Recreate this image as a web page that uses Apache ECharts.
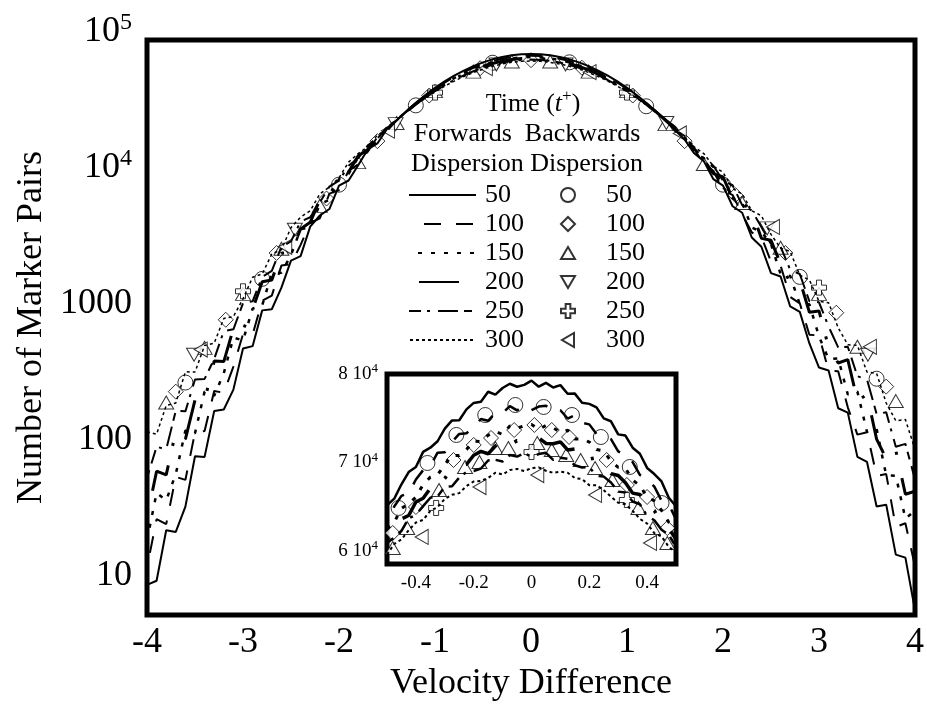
<!DOCTYPE html>
<html><head><meta charset="utf-8">
<script src="https://cdn.jsdelivr.net/npm/echarts@6/dist/echarts.min.js"></script>
<style>html,body{margin:0;padding:0;background:#fff}#c{width:927px;height:707px}</style>
</head><body><div id="c"></div>
<script>
const FONT = '"Liberation Serif","Times New Roman",serif';

// ---------- main plot: forwards dispersion (lines) ----------
const velocity = [-4,-3.9,-3.8,-3.7,-3.6,-3.5,-3.4,-3.3,-3.2,-3.1,-3,-2.9,-2.8,-2.7,-2.6,-2.5,-2.4,-2.3,-2.2,-2.1,-2,-1.9,-1.8,-1.7,-1.6,-1.5,-1.4,-1.3,-1.2,-1.1,-1,-0.9,-0.8,-0.7,-0.6,-0.5,-0.4,-0.3,-0.2,-0.1,0,0.1,0.2,0.3,0.4,0.5,0.6,0.7,0.8,0.9,1,1.1,1.2,1.3,1.4,1.5,1.6,1.7,1.8,1.9,2,2.1,2.2,2.3,2.4,2.5,2.6,2.7,2.8,2.9,3,3.1,3.2,3.3,3.4,3.5,3.6,3.7,3.8,3.9,4];
const fwd50 = [9.7,10.4,24.5,23.8,36.6,86,85,185,190,266,534,556,1020,1040,1500,2370,2560,4220,5100,5690,8470,9230,11960,15670,17290,22130,25560,29860,34480,39370,44430,49560,54650,59580,64210,68410,72050,75010,77200,78550,79000,78550,77200,75010,72050,68410,64210,59580,54650,49560,44430,39370,34480,29860,25560,21630,18520,14630,12820,9440,8470,5960,5340,3510,3000,1920,1810,1090,994,582,387,368,194,180,85,78,36.6,37.8,16.2,15.4,6.3];
const fwd100 = [13,29.6,27.2,60.6,57.6,129,132,260,252,393,682,675,1200,1310,2180,2230,3100,4490,4860,7380,7840,10880,12140,15040,19310,21350,25640,29760,34180,38850,43670,48550,53390,58080,62500,66500,69980,72810,74910,76220,76650,76220,74910,72810,69980,66500,62500,58080,53390,48550,43670,38850,34180,29760,25640,22350,18020,15740,12140,10880,7840,7210,5210,3820,3560,2330,2180,1280,1150,675,666,367,364,197,124,129,61.7,63.5,25.9,27.6,13.3];
const fwd150 = [20.6,46.2,40.7,63.6,133,127,257,240,351,643,612,1050,1110,1920,1930,2610,4040,4160,6150,6670,9470,10320,13720,15020,18280,22540,25700,29690,33950,38440,43070,47760,52420,56920,61170,65020,68370,71110,73140,74400,74820,74400,73140,71110,68370,65020,61170,56920,52420,47760,43070,38440,33950,29690,25700,21520,19140,15020,13400,11590,8240,6830,6290,4160,3860,3140,1890,1830,1130,1130,656,445,452,245,257,130,137,62.1,61.7,29.9,34.1];
const fwd200 = [30.6,66.7,62.6,131,115,223,221,432,428,751,735,1040,1660,1710,2690,2730,4060,4540,6640,7140,9820,10630,14030,15620,19350,22170,25750,29630,33770,38130,42630,47180,51690,56060,60180,63920,67190,69850,71830,73060,73470,73060,71830,69850,67190,63920,60180,56060,51690,47180,42630,38130,33770,29630,25750,22680,18070,16740,13090,10380,9820,6820,6340,5460,3460,3350,2240,1630,1700,989,1010,544,418,442,221,244,115,82.6,94.8,45.1,47.5];
const fwd250 = [59.6,101,96.5,186,184,316,319,447,719,740,1150,1190,1800,1990,3000,3290,4600,4950,6370,8320,9200,11850,13500,16730,18760,22860,25810,29550,33540,37730,42040,46410,50740,54930,58900,62490,65640,68210,70120,71320,71720,71320,70120,68210,65640,62490,58900,54930,50740,46410,42040,37730,33540,29550,25810,21840,19640,15970,13500,11850,9200,8520,6080,5560,4190,3140,3000,2030,1890,1190,1170,775,545,550,334,316,176,181,101,106,58.3];
const fwd300 = [130,125,203,212,360,358,563,584,890,918,1240,1790,1890,2650,2860,4150,4960,5520,7340,8260,9660,12610,14570,16330,19920,22020,25880,29480,33310,37320,41460,45650,49790,53840,57620,61090,64120,66610,68460,69610,70000,69610,68460,66610,64120,61090,57620,53840,49790,45650,41460,37320,33310,29480,25880,23060,19020,16330,14570,11760,10600,8070,7340,5520,5080,3700,2930,2770,1850,1710,1190,1160,758,570,563,358,351,212,157,160,96.7];

// ---------- main plot: backwards dispersion (markers) ----------
const bwd50X = [-3.6,-2.8,-2,-1.2,-0.4,0.4,1.2,2,2.8,3.6];
const bwd50Y = [300,1740,8600,33000,68000,68500,32500,8600,1800,320];
const bwd100X = [-3.7,-3.18,-2.65,-2.13,-1.6,-1.06,-0.53,0,0.53,1.06,1.6,2.13,2.65,3.18,3.7];
const bwd100Y = [257,870,2700,6800,18000,39000,62000,71000,62500,39000,18000,7200,2700,980,280];
const bwd150X = [-3.8,-3.4,-3,-2.6,-2.2,-1.8,-1.4,-1,-0.6,-0.2,0.2,0.6,1,1.4,1.8,2.2,2.6,3,3.4,3.8];
const bwd150Y = [214,540,1350,2900,6000,12600,24500,42000,58500,69500,69500,58500,42000,24000,12200,6300,2950,1350,550,219];
const bwd200X = [-3.51,-2.46,-1.41,-0.36,0.36,1.41,2.46,3.51];
const bwd200Y = [480,4000,24000,66000,66000,24500,4100,480];
const bwd250X = [-3,-1,1,3];
const bwd250Y = [1410,41000,41000,1500];
const bwd300X = [-3.44,-2.56,-1.49,-0.47,0.61,1.55,2.52,3.53];
const bwd300Y = [525,3000,21500,62000,58000,20500,4200,550];

// ---------- inset (centre of the distributions) ----------
const insetX = [-0.5,-0.475,-0.45,-0.425,-0.4,-0.375,-0.35,-0.325,-0.3,-0.275,-0.25,-0.225,-0.2,-0.175,-0.15,-0.125,-0.1,-0.075,-0.05,-0.025,0,0.025,0.05,0.075,0.1,0.125,0.15,0.175,0.2,0.225,0.25,0.275,0.3,0.325,0.35,0.375,0.4,0.425,0.45,0.475,0.5];
const inset50 = [65140,65890,67520,68900,69480,71190,71660,72390,73820,74750,74760,76000,76730,76860,77990,77660,78420,78900,78560,78770,79250,78560,78990,78470,78740,77760,77780,76750,76620,76220,74980,74650,73170,73030,71660,70970,69370,68680,67840,65990,65040];
const inset100 = [63340,65010,66210,66510,68060,69120,69590,71100,71140,72310,73220,73300,73980,74900,74700,75600,75580,76370,75880,76420,75920,76310,76420,75720,75900,74960,75350,74470,74300,73200,73000,72640,71250,70780,70020,68580,68060,67260,65670,65230,63550];
const inset150 = [62480,63220,64780,65330,66060,67490,68330,68580,69770,70780,70770,71450,72410,72340,73070,73520,73150,74130,73850,74160,74300,73730,74170,73920,73370,73630,72640,72660,72300,71450,71300,70130,69440,69340,68000,67380,66060,65650,64560,63220,62690];
const inset200 = [61200,62520,63600,63990,65520,65940,67060,67380,68190,69270,69660,69780,70810,71240,70980,71840,72320,71990,72460,72340,72690,72770,72140,72100,72320,71410,71520,71240,70380,70530,69440,68730,68510,67700,66520,66370,65090,64530,63170,62520,61310];
const inset250 = [60870,61480,62260,63660,64060,65050,66000,66150,67230,67290,68280,68900,69020,69310,70210,70290,70100,70830,70650,71050,70650,70940,71080,70290,70530,70400,69670,69420,69450,68470,68390,67720,66690,66580,65570,65260,63950,63450,62370,61800,60440];
const inset300 = [59560,60770,61280,62320,63190,63490,64510,64940,65860,66330,66520,67320,67840,67900,68230,68830,68630,69130,69260,69010,69360,69440,69050,68810,68950,68830,68230,68110,67410,67420,66840,66110,65430,65260,64510,63600,63080,61990,61610,60450,59780];

const insetB50X = [-0.46,-0.36,-0.26,-0.16,-0.056,0.042,0.14,0.24,0.34,0.45];
const insetB50Y = [64840,69930,73100,75360,76490,76270,75360,72870,69480,65400];
const insetB100X = [-0.48,-0.4,-0.27,-0.2,-0.14,-0.06,0.01,0.07,0.13,0.26,0.33,0.4,0.47];
const insetB100Y = [62010,64950,70270,71970,72760,73660,74230,73660,72870,70270,67440,66080,62570];
const insetB150X = [-0.48,-0.43,-0.32,-0.23,-0.18,-0.125,-0.08,0.02,0.07,0.12,0.17,0.22,0.28,0.37,0.42,0.47];
const insetB150Y = [60310,62570,66870,69480,70040,71630,71630,72190,71400,70830,70270,69360,68010,64840,62570,60880];
const insetB200X = [];
const insetB200Y = [];
const insetB250X = [-0.33,0,0.33];
const insetB250Y = [64840,71170,65740];
const insetB300X = [-0.38,-0.18,0.02,0.22,0.41];
const insetB300Y = [61560,67210,68570,66310,60880];

const times = ['50','100','150','200','250','300'];
const insetYTicks = [60000,70000,80000];

// ---------- build ----------
const fwdMain = [fwd50,fwd100,fwd150,fwd200,fwd250,fwd300];
const fwdInset = [inset50,inset100,inset150,inset200,inset250,inset300];
const bwdMain = [[bwd50X,bwd50Y],[bwd100X,bwd100Y],[bwd150X,bwd150Y],[bwd200X,bwd200Y],[bwd250X,bwd250Y],[bwd300X,bwd300Y]];
const bwdInset = [[insetB50X,insetB50Y],[insetB100X,insetB100Y],[insetB150X,insetB150Y],[insetB200X,insetB200Y],[insetB250X,insetB250Y],[insetB300X,insetB300Y]];

const lineStyles = [
  {type:'solid', width:2},
  {type:[17,15], dashOffset:17, width:2},
  {type:[4,9], width:2.5},
  {type:[3,24,40,20], width:3},
  {type:[8,7,14,6,3,8,20,6], width:2},
  {type:[3,3], width:1.5}
];
const PLUS = 'path://M4,0H8V4H12V8H8V12H4V8H0V4H4Z';
const TRI_UP = 'path://M7,0L14,12L0,12Z';
const TRI_DOWN = 'path://M0,0L14,0L7,12Z';
const TRI_LEFT = 'path://M12,0L12,14L0,7Z';
const markers = [
  {symbol:'circle', rotate:0, size:15, legend:'circle'},
  {symbol:'diamond', rotate:0, size:15, legend:'diamond'},
  {symbol:'triangle', rotate:0, size:[15,13], legend:TRI_UP},
  {symbol:'triangle', rotate:180, size:[15,13], legend:TRI_DOWN},
  {symbol:PLUS, rotate:0, size:15, legend:PLUS},
  {symbol:'triangle', rotate:90, size:[15,13], legend:TRI_LEFT}
];

const series = [];
times.forEach((t,i) => {
  const ls = Object.assign({color:'#000', cap:'butt'}, lineStyles[i]);
  const lsInset = Object.assign({}, ls, {width: ls.width + 0.5});
  const common = {name:'F '+t, type:'line', symbol:'none', silent:true,
    itemStyle:{color:'rgba(0,0,0,0)', borderColor:'rgba(0,0,0,0)'}};
  series.push(Object.assign({}, common, {xAxisIndex:0, yAxisIndex:0, lineStyle:ls,
    data: velocity.map((x,j)=>[x, fwdMain[i][j]])}));
  series.push(Object.assign({}, common, {xAxisIndex:1, yAxisIndex:1, lineStyle:lsInset,
    data: insetX.map((x,j)=>[x, fwdInset[i][j]])}));
});
times.forEach((t,i) => {
  const common = {name:'B '+t, type:'scatter', symbol:markers[i].symbol, symbolRotate:markers[i].rotate,
    symbolSize:markers[i].size, silent:true, itemStyle:{color:'#fff', borderColor:'#000', borderWidth:1}};
  series.push(Object.assign({}, common, {xAxisIndex:0, yAxisIndex:0,
    data: bwdMain[i][0].map((x,j)=>[x, bwdMain[i][1][j]])}));
  series.push(Object.assign({}, common, {xAxisIndex:1, yAxisIndex:1,
    data: bwdInset[i][0].map((x,j)=>[x, bwdInset[i][1][j]])}));
});

const supRich = (fs, pad) => ({sup:{fontSize:fs, fontFamily:FONT, color:'#000', padding:[0,0,pad,0]}});

const option = {
  backgroundColor:'#fff',
  animation:false,
  textStyle:{fontFamily:FONT, color:'#000'},
  grid:[
    {left:147, top:40, right:12, bottom:91, show:true, borderColor:'#000', borderWidth:5, backgroundColor:'transparent'},
    {left:387, top:374, width:289, height:190, show:true, borderColor:'#000', borderWidth:5, backgroundColor:'#fff'}
  ],
  xAxis:[
    {type:'value', gridIndex:0, min:-4, max:4, interval:1,
      axisLine:{show:false}, axisTick:{show:false}, splitLine:{show:false},
      axisLabel:{fontSize:36, fontFamily:FONT, color:'#000', margin:10},
      name:'Velocity Difference', nameLocation:'middle', nameGap:51,
      nameTextStyle:{fontSize:36, fontFamily:FONT, color:'#000'}},
    {type:'value', gridIndex:1, min:-0.5, max:0.5, interval:0.1,
      axisLine:{show:false}, axisTick:{show:false}, splitLine:{show:false},
      axisLabel:{fontSize:19, fontFamily:FONT, color:'#000', margin:10, showMinLabel:true, showMaxLabel:true,
        formatter: v => { const r = Math.round(v*10); return (r % 2 === 0 && Math.abs(r) < 5) ? String(r/10) : ''; }}}
  ],
  yAxis:[
    {type:'log', logBase:10, gridIndex:0, min:5.82, max:100000,
      axisLine:{show:false}, axisTick:{show:false}, splitLine:{show:false},
      axisLabel:{fontSize:36, fontFamily:FONT, color:'#000', margin:15, padding:[0,0,16,0],
        showMinLabel:true, showMaxLabel:true,
        formatter: v => { const e = Math.log10(v); const r = Math.round(e);
          if (Math.abs(e - r) > 1e-6) return '';
          return r >= 4 ? '10{sup|' + r + '}' : String(Math.round(v)); },
        rich: supRich(24, 18)},
      name:'Number of Marker Pairs', nameLocation:'middle', nameGap:95,
      nameTextStyle:{fontSize:36, fontFamily:FONT, color:'#000'}},
    {type:'value', gridIndex:1, min:58500, max:80000,
      axisLine:{show:false}, axisTick:{show:false}, splitLine:{show:false},
      axisLabel:{customValues:insetYTicks, fontSize:19, fontFamily:FONT, color:'#000', margin:9,
        formatter: v => Math.round(v/10000) + ' 10{sup|4}', rich: supRich(13, 10)}}
  ],
  legend:[
    {data: times.map(t=>'F '+t), formatter: n => n.slice(2), orient:'vertical', left:408, top:182, padding:0,
      itemWidth:67, itemHeight:14, itemGap:3, selectedMode:false, itemStyle:{opacity:0},
      textStyle:{fontSize:26, fontFamily:FONT, color:'#000', lineHeight:26, padding:[0,0,0,4]}},
    {data: times.map((t,i)=>({name:'B '+t, icon:markers[i].legend})), formatter: n => n.slice(2),
      orient:'vertical', left:560, top:182, padding:0,
      itemWidth:14, itemHeight:14, itemGap:3, selectedMode:false,
      textStyle:{fontSize:26, fontFamily:FONT, color:'#000', lineHeight:26, padding:[0,0,0,26]}}
  ],
  graphic:[
    {type:'text', x:533, y:104, silent:true, style:{
      text:'{a|Time (}{i|t}{s|+}{a|)}', align:'center', verticalAlign:'middle',
      rich:{a:{fontSize:26, fontFamily:FONT, color:'#000'},
            i:{fontSize:26, fontFamily:FONT, fontStyle:'italic', color:'#000'},
            s:{fontSize:17, fontFamily:FONT, color:'#000', padding:[0,0,14,0]}}}},
    {type:'text', x:527, y:134, silent:true, style:{text:'Forwards  Backwards', align:'center', verticalAlign:'middle',
      fontSize:26, fontFamily:FONT, fill:'#000'}},
    {type:'text', x:527, y:164, silent:true, style:{text:'Dispersion Dispersion', align:'center', verticalAlign:'middle',
      fontSize:26, fontFamily:FONT, fill:'#000'}}
  ],
  series: series
};

const chart = echarts.init(document.getElementById('c'), null, {renderer:'canvas'});
chart.setOption(option);
</script>
</body></html>
